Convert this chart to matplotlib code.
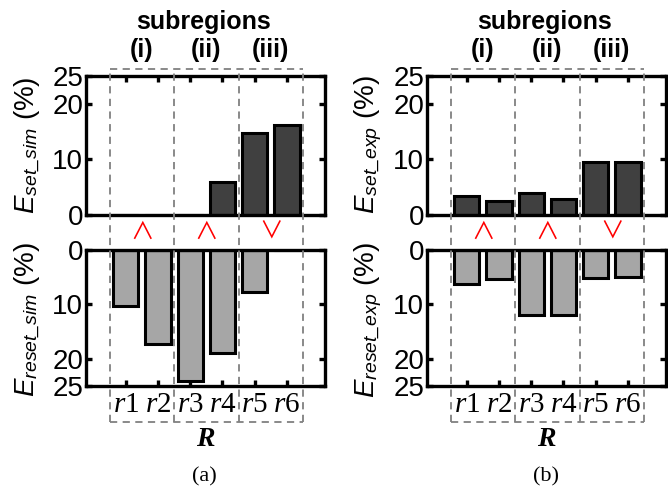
import matplotlib
matplotlib.use('Agg')
import matplotlib.pyplot as plt
from matplotlib.lines import Line2D
from matplotlib.transforms import blended_transform_factory

# ---- data ----
labels = ['r1', 'r2', 'r3', 'r4', 'r5', 'r6']
set_sim = [0, 0, 0, 5.9, 14.8, 16.1]
reset_sim = [10.3, 17.2, 24.1, 18.9, 7.7, 0]
set_exp = [3.5, 2.6, 4.0, 2.8, 9.5, 9.5]
reset_exp = [6.3, 5.4, 12.0, 12.0, 5.1, 4.9]
subregions = ['(i)', '(ii)', '(iii)']
marks_sim = ['\u2227', '\u2227', '\u2228']
marks_exp = ['\u2227', '\u2227', '\u2228']
yticks = [0, 10, 20, 25]

plt.rcParams['font.family'] = ['Liberation Sans', 'DejaVu Sans']
plt.rcParams['mathtext.fontset'] = 'custom'
plt.rcParams['mathtext.rm'] = 'Liberation Serif'
plt.rcParams['mathtext.it'] = 'Liberation Serif:italic'
plt.rcParams['mathtext.bf'] = 'Liberation Sans:italic'

W, H = 668, 487
fig = plt.figure(figsize=(W / 100, H / 100), dpi=100)

x = list(range(1, 7))
DARK = '#404040'
LIGHT = '#a6a6a6'
GREY = '#808080'


def px_box(x0, x1, ytop, ybot):
    return [x0 / W, 1 - ybot / H, (x1 - x0) / W, (ybot - ytop) / H]


def style(ax, top):
    for s in ax.spines.values():
        s.set_linewidth(2.4)
    ax.set_xlim(-0.23, 7.18)
    ax.set_xticks(x)
    ax.set_yticks(yticks)
    ax.tick_params(axis='y', direction='in', length=4, width=2.4,
                   left=True, right=True, labelsize=20, pad=2)
    if top:
        ax.set_ylim(0, 25)
        ax.tick_params(axis='x', direction='in', length=4, width=2.4,
                       top=True, bottom=False, labelbottom=False)
    else:
        ax.set_ylim(25, 0)
        ax.tick_params(axis='x', direction='in', length=4, width=2.4,
                       top=False, bottom=True, labelsize=21, pad=3)
        ax.set_xticklabels(['$' + l[0] + l[1] + '$' for l in labels])


def panel(x0, x1, up, down, name_up, name_down, marks, cap):
    ax1 = fig.add_axes(px_box(x0, x1, 76, 215))
    ax2 = fig.add_axes(px_box(x0, x1, 250, 386))
    ax1.bar(x, up, width=0.78, color=DARK, edgecolor='black', linewidth=2.2)
    ax2.bar(x, down, width=0.78, color=LIGHT, edgecolor='black', linewidth=2.2)
    style(ax1, True)
    style(ax2, False)

    # dashed subregion boxes spanning both panels
    tr = blended_transform_factory(ax1.transData, fig.transFigure)
    ytop = 1 - 69 / H
    ybot = 1 - 422 / H
    dash = dict(transform=tr, color=GREY, lw=1.3, linestyle=(0, (4, 3)))
    for xv in [0.5, 2.5, 4.5, 6.5]:
        fig.add_artist(Line2D([xv, xv], [ybot, ytop], **dash))
    for yv in [ytop, ybot]:
        fig.add_artist(Line2D([0.5, 6.5], [yv, yv], **dash))

    for k, lo in enumerate([0.5, 2.5, 4.5]):
        fig.text(lo + 1, 1 - 50 / H, subregions[k], transform=tr,
                 ha='center', va='center', fontsize=18, fontweight='bold')
        fig.text(lo + 1, 1 - 232 / H, marks[k], transform=tr,
                 ha='center', va='center', fontsize=17, color='red',
                 family=['Noto Sans CJK JP', 'DejaVu Sans'])
    fig.text(3.4, 1 - 22 / H, 'subregions', transform=tr,
             ha='center', va='center', fontsize=18, fontweight='bold')
    fig.text(3.47, 1 - 440 / H, 'R', transform=tr, ha='center', va='center',
             fontsize=20, fontweight='bold', fontstyle='italic',
             family='Liberation Serif')
    fig.text(3.45, 1 - 477 / H, cap, transform=tr, ha='center', va='center',
             fontsize=16, family='Liberation Serif')

    lx = (x0 - 59) / W
    fig.text(lx, 1 - 145 / H, name_up + ' (%)', rotation=90,
             ha='center', va='center', fontsize=20)
    fig.text(lx, 1 - 320 / H, name_down + ' (%)', rotation=90,
             ha='center', va='center', fontsize=20)


panel(86, 325, set_sim, reset_sim, r'$\mathbf{E}_{\mathbf{set\_sim}}$',
      r'$\mathbf{E}_{\mathbf{reset\_sim}}$', marks_sim, '(a)')
panel(427, 666, set_exp, reset_exp, r'$\mathbf{E}_{\mathbf{set\_exp}}$',
      r'$\mathbf{E}_{\mathbf{reset\_exp}}$', marks_exp, '(b)')

fig.savefig('out.png', dpi=100)
